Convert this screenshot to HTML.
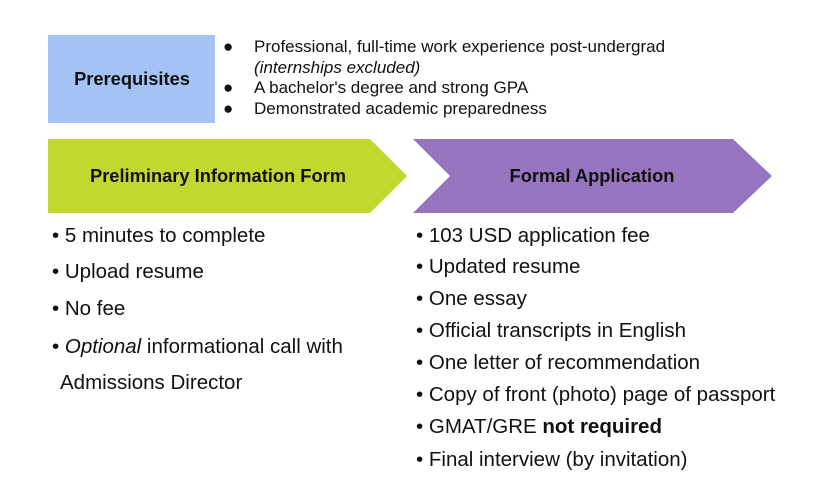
<!DOCTYPE html>
<html><head><style>
body{margin:0;width:825px;height:496px;background:#fff;position:relative;font-family:"Liberation Sans",Arial,sans-serif;overflow:hidden}
.t{position:absolute;white-space:nowrap;color:#111}
.s{font-size:17px;line-height:20px}
.b{font-size:20.5px;line-height:24px}
</style></head><body>
<svg width="825" height="496" style="position:absolute;left:0;top:0">
<rect x="48" y="35" width="167" height="88" fill="#a4c2f4"/>
<polygon points="48,139 370,139 407,176 370,213 48,213" fill="#c3d82e"/>
<polygon points="413,139 733,139 772,176 733,213 413,213 450,176" fill="#9575bf"/>
<text x="132" y="85" text-anchor="middle" font-family="Liberation Sans" font-weight="bold" font-size="18.3" fill="#111">Prerequisites</text>
<text x="218" y="182" text-anchor="middle" font-family="Liberation Sans" font-weight="bold" font-size="18.3" fill="#111">Preliminary Information Form</text>
<text x="592" y="182" text-anchor="middle" font-family="Liberation Sans" font-weight="bold" font-size="18.3" fill="#111">Formal Application</text>
</svg>
<div class="t s" style="left:223px;top:37px">●</div>
<div class="t s" style="left:254px;top:37px">Professional, full-time work experience post-undergrad</div>
<div class="t s" style="left:254px;top:58px"><i>(internships excluded)</i></div>
<div class="t s" style="left:223px;top:78px">●</div>
<div class="t s" style="left:254px;top:78px">A bachelor's degree and strong GPA</div>
<div class="t s" style="left:223px;top:99px">●</div>
<div class="t s" style="left:254px;top:99px">Demonstrated academic preparedness</div>

<div class="t b" style="left:52px;top:224px">• 5 minutes to complete</div>
<div class="t b" style="left:52px;top:260px">• Upload resume</div>
<div class="t b" style="left:52px;top:297px">• No fee</div>
<div class="t b" style="left:52px;top:335px">• <i>Optional</i> informational call with</div>
<div class="t b" style="left:60px;top:371px">Admissions Director</div>

<div class="t b" style="left:416px;top:224px">• 103 USD application fee</div>
<div class="t b" style="left:416px;top:255px">• Updated resume</div>
<div class="t b" style="left:416px;top:287px">• One essay</div>
<div class="t b" style="left:416px;top:319px">• Official transcripts in English</div>
<div class="t b" style="left:416px;top:351px">• One letter of recommendation</div>
<div class="t b" style="left:416px;top:383px">• Copy of front (photo) page of passport</div>
<div class="t b" style="left:416px;top:415px">• GMAT/GRE <b>not required</b></div>
<div class="t b" style="left:416px;top:448px">• Final interview (by invitation)</div>
</body></html>
